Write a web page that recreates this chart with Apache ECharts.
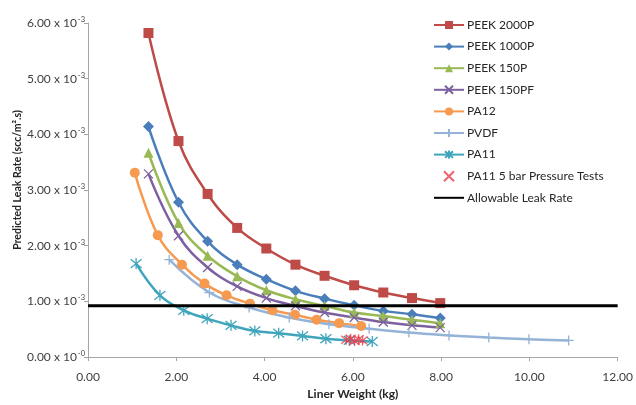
<!DOCTYPE html>
<html>
<head>
<meta charset="utf-8">
<script src="https://cdn.jsdelivr.net/npm/echarts@6/dist/echarts.min.js"></script>
<style>html,body{margin:0;padding:0;background:#fff}#c{width:636px;height:405px}</style>
</head>
<body>
<div id="c"></div>
<script>
// Liner weight (kg)
const peekWeights = [1.37, 2.05, 2.71, 3.38, 4.04, 4.70, 5.36, 6.03, 6.69, 7.34, 7.98];
const pa12Weights = [1.06, 1.58, 2.13, 2.64, 3.14, 3.67, 4.18, 4.69, 5.18, 5.69, 6.19];
const pvdfWeights = [1.84, 2.75, 3.65, 4.56, 5.46, 6.37, 7.27, 8.18, 9.08, 9.99, 10.89];
const pa11Weights = [1.09, 1.63, 2.17, 2.70, 3.24, 3.78, 4.32, 4.86, 5.39, 5.92, 6.44];
const testWeights = [5.85, 5.95, 6.04, 6.13, 6.22];

// Predicted leak rate (x 10^-3 scc/m².s)
const peek2000P = [5.82, 3.88, 2.93, 2.32, 1.95, 1.66, 1.46, 1.29, 1.16, 1.06, 0.97];
const peek1000P = [4.14, 2.78, 2.08, 1.66, 1.40, 1.19, 1.05, 0.93, 0.83, 0.77, 0.70];
const peek150P  = [3.67, 2.41, 1.82, 1.45, 1.20, 1.04, 0.92, 0.80, 0.74, 0.67, 0.61];
const peek150PF = [3.29, 2.18, 1.61, 1.27, 1.06, 0.92, 0.80, 0.71, 0.63, 0.57, 0.53];
const pa12      = [3.31, 2.19, 1.66, 1.32, 1.11, 0.96, 0.84, 0.76, 0.67, 0.61, 0.56];
const pvdf      = [1.75, 1.16, 0.89, 0.71, 0.59, 0.51, 0.44, 0.39, 0.35, 0.32, 0.30];
const pa11      = [1.68, 1.11, 0.84, 0.69, 0.57, 0.47, 0.43, 0.38, 0.33, 0.30, 0.28];
const pa11Tests = [0.31, 0.33, 0.29, 0.32, 0.30];
const allowableRate = 0.92;
const allowableRange = [0, 12];

const xTicks = ['0.00', '2.00', '4.00', '6.00', '8.00', '10.00', '12.00'];
const yTicks = ['0.00', '1.00', '2.00', '3.00', '4.00', '5.00', '6.00'];
const yExp   = ['-0', '-3', '-3', '-3', '-3', '-3', '-3'];

const names = ['PEEK 2000P', 'PEEK 1000P', 'PEEK 150P', 'PEEK 150PF', 'PA12', 'PVDF', 'PA11', 'PA11 5 bar Pressure Tests', 'Allowable Leak Rate'];
const yTitle = 'Predicted Leak Rate (scc/m².s)';
const xTitle = 'Liner Weight (kg)';

const zip = (xs, ys) => xs.map((x, i) => [x, ys[i]]);
const FONT = 'Lato';

const X_SYM = 'path://M0,0L10,10M10,0L0,10';
const PLUS_SYM = 'path://M5,0L5,10M0,5L10,5';
const STAR_SYM = 'path://M5,0L5,10M1,1L9,9M9,1L1,9';

function lineSeries(name, xs, ys, color, symbol, size, stroke) {
  const s = {
    name, type: 'line', data: zip(xs, ys), smooth: 0.4,
    symbol, symbolSize: size, showSymbol: true,
    lineStyle: { color, width: 2.5 },
    itemStyle: { color, borderColor: color, borderWidth: stroke ? 1.3 : 0 },
    emphasis: { disabled: true }
  };
  if (stroke) s.itemStyle.color = 'rgba(0,0,0,0)';
  return s;
}

const legendData = names.map((n, i) => i === 8 ? { name: n, itemStyle: { opacity: 0 } } :
  (i === 7 ? { name: n, icon: X_SYM } : { name: n }));

const chart = echarts.init(document.getElementById('c'), null, { renderer: 'canvas' });
chart.setOption({
  animation: false,
  backgroundColor: '#ffffff',
  textStyle: { fontFamily: FONT },
  grid: { left: 88, right: 18, top: 23, bottom: 43, containLabel: false },
  legend: {
    orient: 'vertical', left: 428, top: 13,
    itemWidth: 30, itemHeight: 10, itemGap: 7.6,
    data: legendData,
    textStyle: { fontFamily: FONT, fontSize: 12, color: '#262626', lineHeight: 14, padding: [0, 0, 0, -2] }
  },
  graphic: [{
    type: 'text', x: 18, y: 180, rotation: Math.PI / 2, z: 100,
    style: { text: yTitle, font: 'bold 10.5px Lato', fill: '#262626', align: 'center', verticalAlign: 'middle' }
  }],
  xAxis: {
    type: 'value', min: 0, max: 12, interval: 2,
    name: xTitle, nameLocation: 'middle', nameGap: 26,
    nameTextStyle: { fontFamily: FONT, fontSize: 12, fontWeight: 'bold', color: '#262626' },
    axisLine: { show: true, lineStyle: { color: '#a6a6a6', width: 1 } },
    axisTick: { show: true, inside: false, length: 4, lineStyle: { color: '#a6a6a6' } },
    axisLabel: { fontFamily: FONT, fontSize: 12, color: '#404040', margin: 14,
      formatter: v => xTicks[Math.round(v / 2)] },
    splitLine: { show: false }
  },
  yAxis: {
    type: 'value', min: 0, max: 6, interval: 1,
    axisLine: { show: true, lineStyle: { color: '#a6a6a6', width: 1 } },
    axisTick: { show: true, inside: false, length: 4, lineStyle: { color: '#a6a6a6' } },
    axisLabel: {
      fontFamily: FONT, fontSize: 12, color: '#404040', margin: 3,
      formatter: v => { const i = Math.round(v); return '{a|' + yTicks[i] + ' x 10}{s|' + yExp[i] + '}'; },
      rich: {
        a: { fontFamily: FONT, fontSize: 12, color: '#404040' },
        s: { fontFamily: FONT, fontSize: 7.5, color: '#404040', verticalAlign: 'bottom', padding: [0, 0, 7, 1] }
      }
    },
    splitLine: { show: false }
  },
  series: [
    lineSeries(names[0], peekWeights, peek2000P, '#BE4B48', 'rect', 10, false),
    lineSeries(names[1], peekWeights, peek1000P, '#4A7EBB', 'diamond', 11, false),
    lineSeries(names[2], peekWeights, peek150P, '#98B954', 'triangle', 10, false),
    lineSeries(names[3], peekWeights, peek150PF, '#7D60A0', X_SYM, 9, true),
    lineSeries(names[4], pa12Weights, pa12, '#F59A4F', 'circle', 10, false),
    lineSeries(names[5], pvdfWeights, pvdf, '#95B3D7', PLUS_SYM, 10, true),
    lineSeries(names[6], pa11Weights, pa11, '#3FA5BC', STAR_SYM, 11, true),
    {
      name: names[7], type: 'scatter', data: zip(testWeights, pa11Tests),
      symbol: STAR_SYM, symbolSize: 10,
      itemStyle: { color: 'rgba(0,0,0,0)', borderColor: '#EE3B4B', borderWidth: 1.3 },
      emphasis: { disabled: true }, z: 3
    },
    {
      name: names[8], type: 'line', data: allowableRange.map(x => [x, allowableRate]),
      symbol: 'none', lineStyle: { color: '#000000', width: 3 }, itemStyle: { color: '#000000' },
      emphasis: { disabled: true }, z: 4
    }
  ]
});
</script>
</body>
</html>
